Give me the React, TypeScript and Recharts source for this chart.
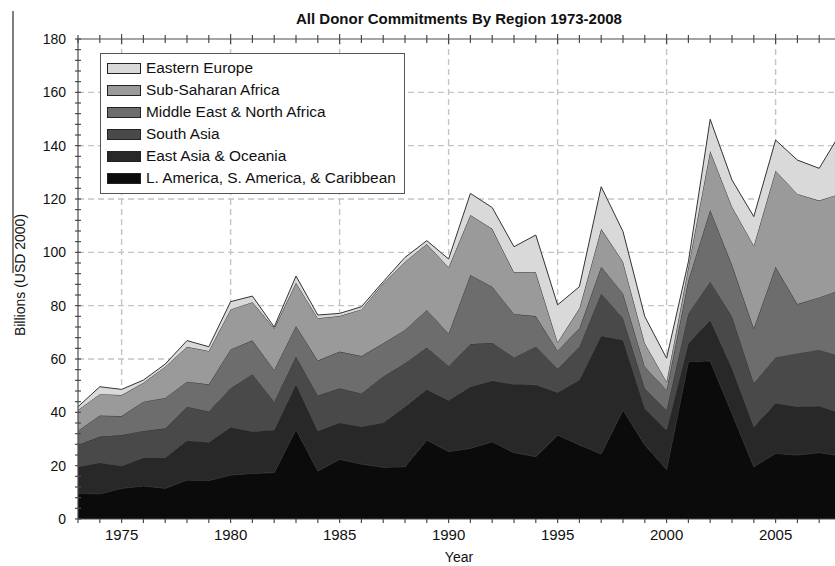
import React from 'react';
import { AreaChart, Area, XAxis, YAxis, CartesianGrid, Legend } from 'recharts';

const years = [
  1973, 1974, 1975, 1976, 1977, 1978, 1979, 1980, 1981, 1982, 1983, 1984,
  1985, 1986, 1987, 1988, 1989, 1990, 1991, 1992, 1993, 1994, 1995, 1996,
  1997, 1998, 1999, 2000, 2001, 2002, 2003, 2004, 2005, 2006, 2007, 2008,
];

// billions USD 2000, per region (stack order bottom -> top)
const latAmerica = [9.6, 9.4, 11.5, 12.4, 11.5, 14.6, 14.4, 16.5, 17.1, 17.4, 33.6, 18.0, 22.4, 20.6, 19.4, 19.6, 29.6, 25.3, 26.5, 29.0, 24.9, 23.4, 31.5, 27.8, 24.4, 40.9, 27.8, 18.6, 59.0, 59.3, 39.6, 19.6, 24.6, 24.0, 24.9, 23.6];
const eastAsia = [10.0, 11.7, 8.4, 10.6, 11.5, 14.8, 14.4, 17.9, 15.7, 16.0, 16.9, 15.0, 13.7, 14.0, 16.7, 22.5, 19.0, 19.1, 23.1, 22.8, 25.6, 26.9, 15.9, 24.3, 44.2, 26.2, 13.7, 14.8, 6.9, 15.3, 16.9, 15.0, 18.8, 18.1, 17.5, 16.0];
const southAsia = [8.2, 9.8, 11.6, 10.0, 11.0, 12.7, 11.5, 14.6, 21.5, 10.6, 10.4, 13.3, 12.9, 12.5, 17.3, 16.3, 15.7, 13.0, 16.0, 14.3, 10.1, 14.3, 8.9, 12.5, 16.0, 8.2, 7.5, 7.5, 11.2, 14.4, 19.4, 16.3, 17.2, 20.0, 21.0, 21.3];
const midEast = [5.3, 7.9, 7.1, 11.0, 11.4, 9.4, 10.2, 14.6, 12.7, 11.9, 11.5, 13.1, 13.8, 14.0, 12.5, 12.5, 14.1, 12.2, 25.9, 21.0, 16.3, 11.5, 6.8, 6.9, 10.0, 9.3, 8.1, 7.5, 12.5, 26.9, 19.4, 20.6, 34.0, 18.5, 19.7, 25.0];
const subSahara = [7.8, 8.0, 7.9, 7.1, 11.7, 13.1, 12.5, 15.0, 14.3, 15.6, 16.2, 15.9, 13.3, 17.5, 22.5, 25.6, 24.7, 24.8, 22.5, 21.7, 15.6, 16.4, 3.2, 7.5, 14.2, 11.9, 8.8, 3.1, 5.0, 22.1, 21.8, 31.0, 36.0, 41.3, 36.3, 36.2];
const eastEurope = [1.2, 2.8, 2.1, 1.0, 1.0, 2.3, 1.6, 2.9, 2.3, 0.5, 2.5, 1.2, 1.0, 1.0, 0.6, 1.6, 1.3, 3.1, 8.1, 8.0, 9.6, 14.0, 14.0, 8.1, 15.8, 11.3, 10.0, 8.8, 1.9, 11.9, 10.0, 10.9, 11.5, 12.7, 12.1, 23.0];

const yTicks = Array.from({ length: 46 }, (_, i) => i * 4);
const yGrid = [20, 40, 60, 80, 100, 120, 140, 160];
const xGrid = [1975, 1980, 1985, 1990, 1995, 2000, 2005];

const series = [
  { key: 'latam', name: 'L. America, S. America, & Caribbean', color: '#0b0b0b' },
  { key: 'eastAsia', name: 'East Asia & Oceania', color: '#282828' },
  { key: 'southAsia', name: 'South Asia', color: '#494949' },
  { key: 'midEast', name: 'Middle East & North Africa', color: '#6d6d6d' },
  { key: 'subSahara', name: 'Sub-Saharan Africa', color: '#9a9a9a' },
  { key: 'eastEurope', name: 'Eastern Europe', color: '#d9d9d9' },
];

const data = years.map((year, i) => ({
  year,
  latam: latAmerica[i],
  eastAsia: eastAsia[i],
  southAsia: southAsia[i],
  midEast: midEast[i],
  subSahara: subSahara[i],
  eastEurope: eastEurope[i],
}));

const FONT = '"Liberation Sans", Arial, Helvetica, sans-serif';
const AXIS = '#4a4a4a';

const BottomTick = (props: any) => {
  const { x, y, payload } = props;
  const major = payload.value % 5 === 0;
  return (
    <g>
      <line x1={x} x2={x} y1={y} y2={y + 4} stroke={AXIS} strokeWidth={1.2} />
      {major && (
        <text x={x} y={y + 21} textAnchor="middle" fontSize={15} fontFamily={FONT} fill="#111">
          {payload.value}
        </text>
      )}
    </g>
  );
};

const TopTick = (props: any) => {
  const { x, y, payload } = props;
  const h = payload.value % 5 === 0 ? 5 : 4;
  return <line x1={x} x2={x} y1={y - h} y2={y + h} stroke={AXIS} strokeWidth={1.2} />;
};

const LeftTick = (props: any) => {
  const { x, y, payload } = props;
  const major = payload.value % 20 === 0;
  return (
    <g>
      <line x1={x - 3} x2={x + 3} y1={y} y2={y} stroke={AXIS} strokeWidth={1.2} />
      {major && (
        <text x={x - 12} y={y + 5} textAnchor="end" fontSize={14} fontFamily={FONT} fill="#111">
          {payload.value}
        </text>
      )}
    </g>
  );
};

const LegendBox = () => (
  <div
    style={{
      width: 305,
      height: 141,
      boxSizing: 'border-box',
      border: '1.5px solid #555',
      background: '#fff',
      paddingTop: 3,
      fontFamily: FONT,
      fontSize: 15.4,
      color: '#111',
    }}
  >
    {[...series].reverse().map((s) => (
      <div key={s.key} style={{ height: 22, display: 'flex', alignItems: 'center', paddingLeft: 6 }}>
        <span
          style={{
            display: 'inline-block',
            width: 34,
            height: 11,
            boxSizing: 'border-box',
            border: '1px solid #222',
            background: s.color,
            marginRight: 5,
          }}
        />
        <span style={{ whiteSpace: 'nowrap' }}>{s.name}</span>
      </div>
    ))}
  </div>
);

export default function App() {
  return (
    <div
      style={{
        position: 'absolute',
        left: 0,
        top: 0,
        width: 835,
        height: 566,
        overflow: 'hidden',
        background: '#fff',
        fontFamily: FONT,
      }}
    >
      <div style={{ position: 'absolute', left: 12, top: 11, width: 2, height: 262, background: '#808080' }} />
      <div
        style={{
          position: 'absolute',
          left: 459,
          top: 10,
          transform: 'translateX(-50%)',
          fontSize: 15,
          fontWeight: 'bold',
          whiteSpace: 'nowrap',
          color: '#111',
        }}
      >
        All Donor Commitments By Region 1973-2008
      </div>
      <div
        style={{
          position: 'absolute',
          left: 20,
          top: 275,
          transform: 'translate(-50%, -50%) rotate(-90deg)',
          fontSize: 14,
          whiteSpace: 'nowrap',
          color: '#111',
        }}
      >
        Billions (USD 2000)
      </div>
      <div
        style={{
          position: 'absolute',
          left: 459,
          top: 549,
          transform: 'translateX(-50%)',
          fontSize: 14,
          color: '#111',
        }}
      >
        Year
      </div>
      <AreaChart
        width={860}
        height={566}
        data={data}
        margin={{ top: 38, right: 19, bottom: 17, left: 18 }}
        style={{ position: 'absolute', left: 0, top: 0 }}
      >
        <CartesianGrid
          horizontalValues={yGrid}
          verticalValues={xGrid}
          stroke="#c4c4c4"
          strokeWidth={1.4}
          strokeDasharray="6 4"
        />
        <XAxis
          type="number"
          dataKey="year"
          domain={[1973, 2008]}
          ticks={years}
          interval={0}
          height={30}
          tickSize={0}
          tickMargin={0}
          tick={BottomTick}
          axisLine={{ stroke: AXIS, strokeWidth: 1.2 }}
        />
        <XAxis
          xAxisId="top"
          orientation="top"
          type="number"
          dataKey="year"
          domain={[1973, 2008]}
          ticks={years}
          interval={0}
          height={1}
          tickSize={0}
          tickMargin={0}
          tick={TopTick}
          axisLine={{ stroke: AXIS, strokeWidth: 1.2 }}
        />
        <YAxis
          type="number"
          domain={[0, 180]}
          ticks={yTicks}
          interval={0}
          width={60}
          tickSize={0}
          tickMargin={0}
          tick={LeftTick}
          axisLine={{ stroke: AXIS, strokeWidth: 1.2 }}
        />
        <Legend
          layout="vertical"
          align="center"
          verticalAlign="middle"
          content={LegendBox}
          wrapperStyle={{ left: 100, top: 53, width: 305, height: 141 }}
        />
        {series.map((s) => (
          <Area
            key={s.key}
            type="linear"
            dataKey={s.key}
            name={s.name}
            stackId="regions"
            stroke="#333"
            strokeWidth={1}
            fill={s.color}
            fillOpacity={1}
            isAnimationActive={false}
          />
        ))}
      </AreaChart>
    </div>
  );
}
